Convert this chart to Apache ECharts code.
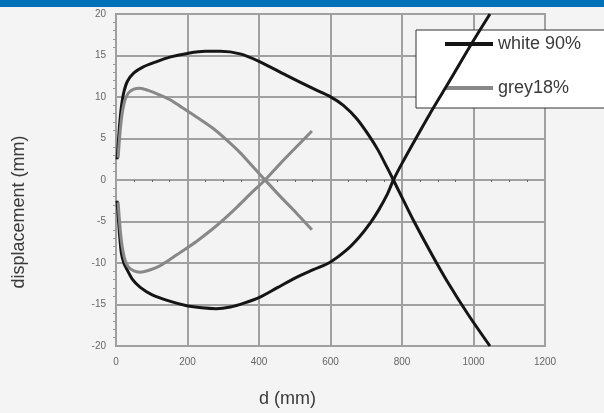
<!DOCTYPE html>
<html>
<head>
<meta charset="utf-8">
<script src="https://cdn.jsdelivr.net/npm/echarts@6/dist/echarts.min.js"></script>
<style>
  html, body { margin: 0; padding: 0; background: #f4f4f4; }
  #chart { width: 604px; height: 413px; }
</style>
</head>
<body>
<div id="chart"></div>
<script>
// white 90% - two branches crossing near d=776
var whiteUpperX = [3, 6, 10, 15, 22, 32, 50, 75, 110, 150, 200, 250, 291, 347, 400, 477, 552, 599, 636, 673, 710, 733, 756, 776, 800, 830, 880, 925, 985, 1046];
var whiteUpperY = [2.5, 4.2, 6.6, 8.8, 10.6, 11.9, 12.9, 13.6, 14.2, 14.8, 15.25, 15.5, 15.5, 15.2, 14.3, 12.6, 11.0, 10.05, 9.0, 7.4, 5.2, 3.6, 1.7, 0, -2.1, -4.7, -8.7, -12.1, -16.2, -20];
var whiteLowerX = [3, 6, 10, 15, 22, 31, 45, 67, 100, 150, 198, 240, 280, 320, 360, 403, 450, 506, 552, 599, 646, 680, 711, 735, 758, 776, 800, 840, 877, 920, 960, 1000, 1046];
var whiteLowerY = [-2.5, -4.2, -6.6, -8.8, -10.0, -10.8, -11.9, -12.9, -13.8, -14.6, -15.15, -15.4, -15.5, -15.3, -14.8, -14.1, -13.0, -11.7, -10.8, -9.9, -8.4, -6.9, -5.2, -3.6, -1.8, 0, 2.0, 5.1, 7.9, 11.0, 13.9, 16.8, 20];
// grey 18% - two branches crossing near d=417
var greyUpperX = [6, 9, 13, 18, 25, 35, 50, 67, 90, 120, 150, 179, 225, 272, 310, 347, 382, 417, 460, 505, 548];
var greyUpperY = [2.7, 4.5, 6.5, 8.2, 9.6, 10.5, 10.95, 11.05, 10.8, 10.3, 9.7, 8.9, 7.6, 6.2, 4.8, 3.3, 1.65, 0, -2.0, -4.0, -6.0];
var greyLowerX = [6, 9, 13, 18, 25, 35, 50, 67, 90, 120, 150, 179, 225, 270, 300, 340, 380, 417, 460, 505, 548];
var greyLowerY = [-2.7, -4.5, -6.5, -8.2, -9.6, -10.5, -10.95, -11.1, -10.9, -10.4, -9.6, -8.75, -7.4, -5.9, -4.8, -3.2, -1.5, 0, 2.0, 4.0, 5.9];

function pairs(xs, ys) {
  return xs.map(function (x, i) { return [x, ys[i]]; });
}

var chart = echarts.init(document.getElementById('chart'));

function curve(name, xs, ys, color) {
  return {
    name: name,
    type: 'line',
    data: pairs(xs, ys),
    smooth: 0.3,
    symbol: 'none',
    lineStyle: { color: color, width: 3 },
    itemStyle: { color: color },
    z: 5
  };
}

var titleFont = { fontFamily: 'Liberation Sans', fontSize: 18, color: '#3a3a3a' };

var option = {
  backgroundColor: '#f4f4f4',
  animation: false,
  graphic: [{
    type: 'rect',
    shape: { x: 0, y: 0, width: 604, height: 7 },
    style: { fill: '#0070b8' }
  }],
  grid: {
    left: 116, right: 59, top: 14, bottom: 67,
    show: true, backgroundColor: '#f3f3f3',
    borderColor: '#a0a0a0', borderWidth: 2
  },
  legend: {
    left: 416, top: 30,
    orient: 'vertical',
    backgroundColor: '#fff',
    borderColor: '#333', borderWidth: 1,
    padding: [4, 60, 10, 29],
    itemGap: 24,
    itemWidth: 48, itemHeight: 4,
    icon: 'rect',
    textStyle: { fontFamily: 'Liberation Sans', fontSize: 18, color: '#3a3a3a', lineHeight: 20 },
    data: ['white 90%', 'grey18%']
  },
  xAxis: [{
    type: 'value', min: 0, max: 1200, interval: 200,
    name: 'd (mm)', nameLocation: 'middle', nameGap: 44,
    nameTextStyle: Object.assign({ padding: [0, 86, 0, 0] }, titleFont),
    axisLine: { onZero: false, show: false },
    axisTick: { show: false },
    axisLabel: {
      fontFamily: 'Liberation Sans', fontSize: 10, color: '#666', margin: 11,
      formatter: function (v) { return String(v); }
    },
    splitLine: { show: true, lineStyle: { color: '#a0a0a0', width: 2 } }
  }, {
    type: 'value', min: 0, max: 1200, interval: 200, position: 'bottom',
    axisLine: { show: true, onZero: true, lineStyle: { color: '#a0a0a0', width: 2 } },
    axisTick: { show: false },
    minorTick: { show: true, splitNumber: 4, length: 2, lineStyle: { color: '#666', width: 1 } },
    axisLabel: { show: false },
    splitLine: { show: false }
  }],
  yAxis: {
    type: 'value', min: -20, max: 20, interval: 5,
    name: 'displacement (mm)', nameLocation: 'middle', nameGap: 88, nameRotate: 90,
    nameTextStyle: Object.assign({ padding: [0, 64, 0, 0] }, titleFont),
    axisLine: { show: true, lineStyle: { color: '#a0a0a0', width: 2 } },
    axisTick: { show: false },
    minorTick: { show: true, splitNumber: 5, length: 3, lineStyle: { color: '#999', width: 1 } },
    axisLabel: { fontFamily: 'Liberation Sans', fontSize: 10, color: '#666', margin: 10 },
    splitLine: { show: true, lineStyle: { color: '#a0a0a0', width: 2 } }
  },
  series: [
    curve('white 90%', whiteUpperX, whiteUpperY, '#151515'),
    curve('white 90%', whiteLowerX, whiteLowerY, '#151515'),
    curve('grey18%', greyUpperX, greyUpperY, '#888888'),
    curve('grey18%', greyLowerX, greyLowerY, '#888888')
  ]
};

chart.setOption(option);
</script>
</body>
</html>
